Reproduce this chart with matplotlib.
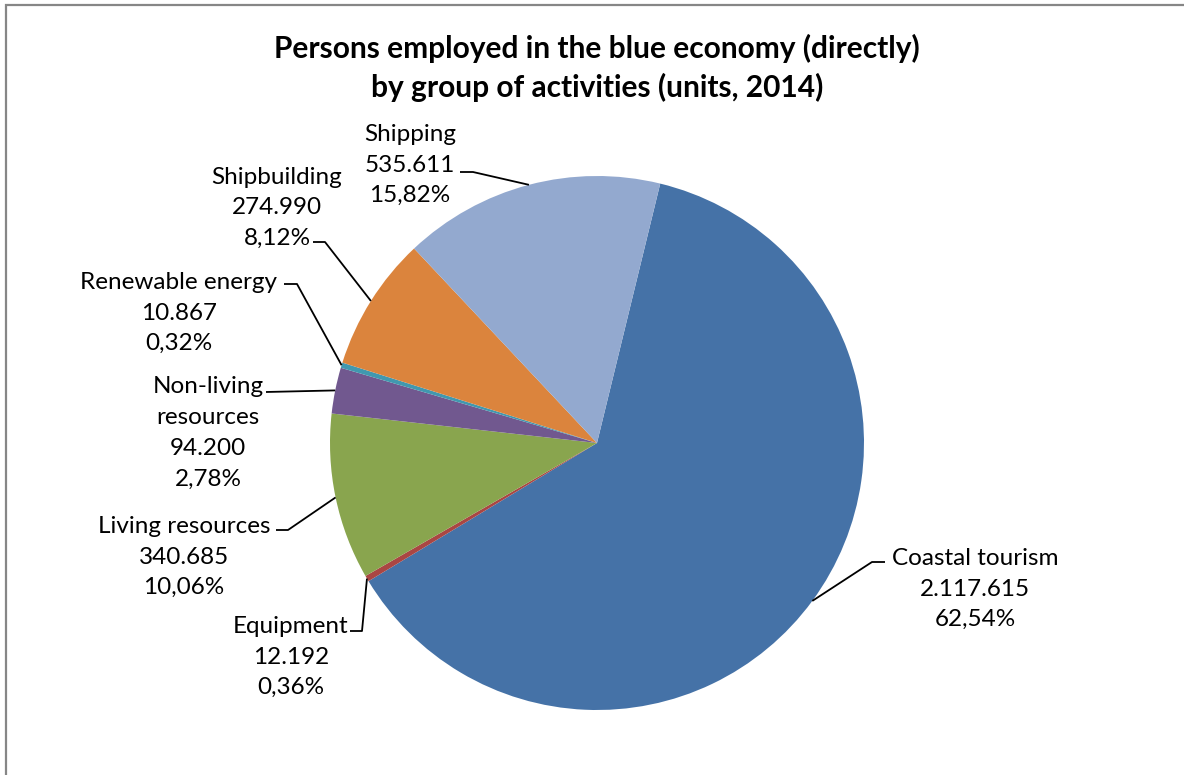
import numpy as np
import matplotlib
matplotlib.use("Agg")
import matplotlib.pyplot as plt
from matplotlib.patches import Rectangle

W, H = 1184, 775

# ── Data (persons employed, 2014) ────────────────────────────────────
sectors = ['Coastal tourism', 'Equipment', 'Living resources',
           'Non-living\nresources', 'Renewable energy', 'Shipbuilding',
           'Shipping']
persons = [2117615, 12192, 340685, 94200, 10867, 274990, 535611]
colors = ['#4572A7', '#AA4643', '#89A54E', '#71588F', '#4198AF',
          '#DB843D', '#93A9CF']

# label block centre (x, y in px from top) and leader elbow (x_start, x_elbow, y)
label_pos = [(975, 589), (291, 657), (184, 557), (208, 433),
             (179, 313), (277, 208), (410, 165)]
leaders = [(885, 872, 562), (350, 362, 631), (276, 288, 530),
           (266, 266, 392), (284, 297, 284), (313, 325, 242),
           (460, 473, 172)]

CX, CY, R = 597, 443, 267

plt.rcParams['font.family'] = ['Lato', 'DejaVu Sans']

fig = plt.figure(figsize=(W / 100, H / 100), dpi=100)
ax = fig.add_axes([0, 0, 1, 1])
ax.set_xlim(0, W)
ax.set_ylim(0, H)
ax.set_aspect('equal')
ax.axis('off')


def fy(y):
    return H - y


def thousands(v):
    return f'{v:,}'.replace(',', '.')


def pct(p):
    return f'{p:.2f}%'.replace('.', ',')


wedges, _ = ax.pie(persons, colors=colors, startangle=76.3,
                   counterclock=False, center=(CX, fy(CY)), radius=R,
                   wedgeprops=dict(linewidth=0))
ax.set_xlim(0, W)
ax.set_ylim(0, H)

total = sum(persons)
for w, name, val, (lx, ly), (xs, xe, yl) in zip(wedges, sectors, persons,
                                                label_pos, leaders):
    txt = f'{name}\n{thousands(val)}\n{pct(val / total * 100)}'
    ax.text(lx, fy(ly), txt, ha='center', va='center', fontsize=17.5,
            linespacing=1.57, color='black')
    mid = np.deg2rad((w.theta1 + w.theta2) / 2)
    ex = CX + R * np.cos(mid)
    ey = fy(CY) + R * np.sin(mid)
    ax.plot([xs, xe, ex], [fy(yl), fy(yl), ey], color='black', lw=1.3,
            solid_capstyle='butt')

ax.text(W / 2 + 5, fy(68),
        'Persons employed in the blue economy (directly)\n'
        'by group of activities (units, 2014)',
        ha='center', va='center', fontsize=21.5, fontweight='bold',
        linespacing=1.38)

# chart frame
fig.patches.append(Rectangle((6 / W, -0.1), 1.2, 1 - 5 / H + 0.1,
                             transform=fig.transFigure, fill=False,
                             edgecolor='#868686', lw=1.6))

fig.savefig('out.png', dpi=100)
